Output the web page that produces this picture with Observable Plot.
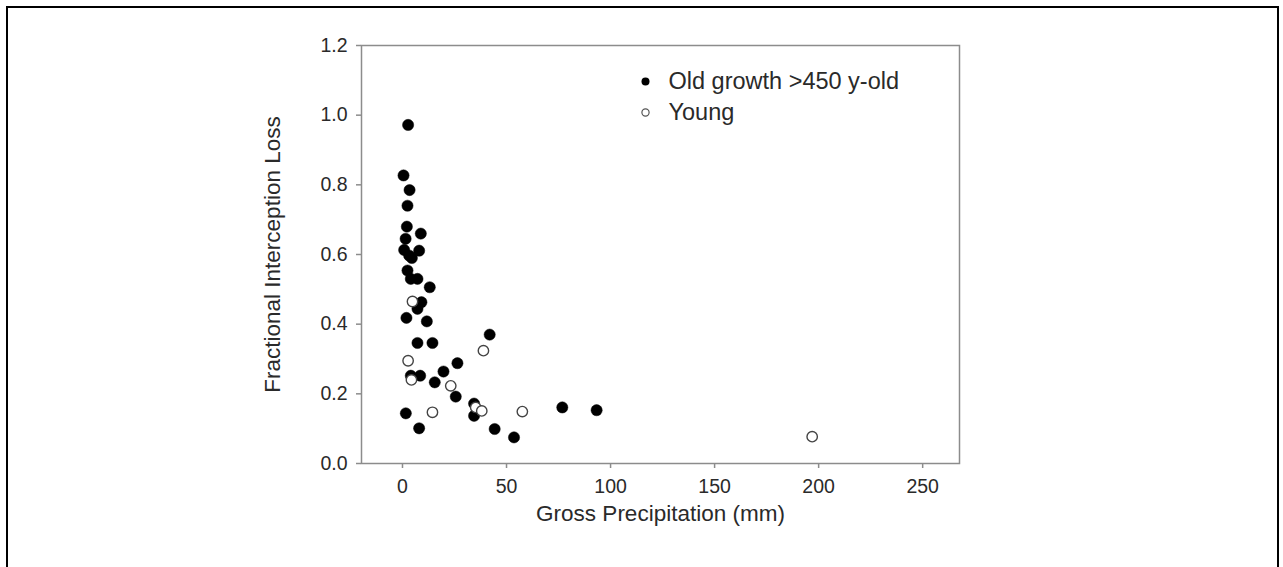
<!DOCTYPE html>
<html>
<head>
<meta charset="utf-8">
<script src="https://cdn.jsdelivr.net/npm/d3@7"></script>
<script src="https://cdn.jsdelivr.net/npm/@observablehq/plot@0.6"></script>
<style>
  html, body { margin: 0; padding: 0; background: #fff; }
  #wrap { position: relative; width: 1283px; height: 567px; overflow: hidden; }
  #border { position: absolute; left: 6px; top: 6px; width: 1269px; height: 600px;
            border-left: 2px solid #000; border-top: 2px solid #000; border-right: 2px solid #000; }
  #chart { position: absolute; left: 0; top: 0; }
</style>
</head>
<body>
<div id="wrap"><div id="border"></div><div id="chart"></div></div>
<script>
// Old growth (>450 y-old) — filled circles
const oldPrecip = [2.7, 0.5, 3.4, 2.4, 2.1, 8.8, 1.5, 0.8, 8.0, 3.2, 4.5, 2.4, 4.0, 7.2, 13.1, 9.1, 7.2, 1.9, 11.7, 41.9, 7.2, 14.4, 26.4, 19.7, 4.0, 8.5, 15.5, 25.6, 34.4, 34.4, 1.6, 8.0, 44.3, 53.6, 76.8, 93.3];
const oldLoss   = [0.972, 0.827, 0.785, 0.740, 0.680, 0.660, 0.645, 0.613, 0.611, 0.597, 0.590, 0.554, 0.530, 0.530, 0.506, 0.463, 0.444, 0.418, 0.408, 0.370, 0.346, 0.346, 0.288, 0.264, 0.252, 0.252, 0.233, 0.192, 0.172, 0.137, 0.144, 0.101, 0.099, 0.075, 0.161, 0.153];
// Young — open circles
const youngPrecip = [4.8, 38.9, 2.7, 4.3, 23.2, 35.2, 38.1, 57.6, 14.4, 196.9];
const youngLoss   = [0.465, 0.324, 0.295, 0.240, 0.223, 0.161, 0.151, 0.149, 0.147, 0.077];

const xTicks = [0, 50, 100, 150, 200, 250];
const yTicks = [0, 0.2, 0.4, 0.6, 0.8, 1.0, 1.2];
const legendLabels = ["Old growth >450 y-old", "Young"];
const xLabel = "Gross Precipitation (mm)";
const yLabel = "Fractional Interception Loss";

const oldData = oldPrecip.map((x, i) => ({x, y: oldLoss[i]}));
const youngData = youngPrecip.map((x, i) => ({x, y: youngLoss[i]}));

const font = "'Liberation Sans', Arial, Helvetica, sans-serif";
const axisColor = "#8c8c8c";
const textColor = "#2a2a2a";

const chart = Plot.plot({
  width: 1283,
  height: 567,
  marginLeft: 361,
  marginRight: 324,
  marginTop: 45,
  marginBottom: 104,
  style: {fontFamily: font, background: "transparent", overflow: "visible"},
  x: {domain: [-19.7, 267.7]},
  y: {domain: [0, 1.2]},
  marks: [
    Plot.frame({stroke: axisColor, strokeWidth: 1.5}),
    Plot.axisY({ticks: yTicks, tickFormat: d3.format(".1f"), tickSize: 5, tickPadding: 9,
      stroke: axisColor, strokeWidth: 1.5, fill: textColor, fontSize: 19.5, label: null}),
    Plot.axisX({ticks: xTicks, tickFormat: d3.format("d"), tickSize: 5, tickPadding: 11,
      stroke: axisColor, strokeWidth: 1.5, fill: textColor, fontSize: 19.5, label: null}),
    Plot.dot(oldData, {x: "x", y: "y", r: 5.6, fill: "#000", stroke: "#000", strokeWidth: 0.5}),
    Plot.dot(youngData, {x: "x", y: "y", r: 5.2, fill: "#fff", stroke: "#444", strokeWidth: 1.4}),
    Plot.text([yLabel], {text: d => d, frameAnchor: "left", dx: -89, rotate: -90,
      textAnchor: "middle", lineAnchor: "middle", fontSize: 22.5, fill: textColor}),
    Plot.text([xLabel], {text: d => d, frameAnchor: "bottom", dy: 50,
      textAnchor: "middle", lineAnchor: "middle", fontSize: 22.5, fill: textColor}),
    // legend
    Plot.dot([legendLabels[0]], {frameAnchor: "top-left", dx: 284, dy: 36, r: 4, fill: "#000"}),
    Plot.dot([legendLabels[1]], {frameAnchor: "top-left", dx: 284, dy: 67, r: 3.6, fill: "#fff", stroke: "#555", strokeWidth: 1.2}),
    Plot.text([legendLabels[0]], {text: d => d, frameAnchor: "top-left", dx: 307, dy: 36,
      textAnchor: "start", lineAnchor: "middle", fontSize: 23.5, fill: textColor}),
    Plot.text([legendLabels[1]], {text: d => d, frameAnchor: "top-left", dx: 307, dy: 67,
      textAnchor: "start", lineAnchor: "middle", fontSize: 23.5, fill: textColor})
  ]
});
document.getElementById("chart").appendChild(chart);
</script>
</body>
</html>
